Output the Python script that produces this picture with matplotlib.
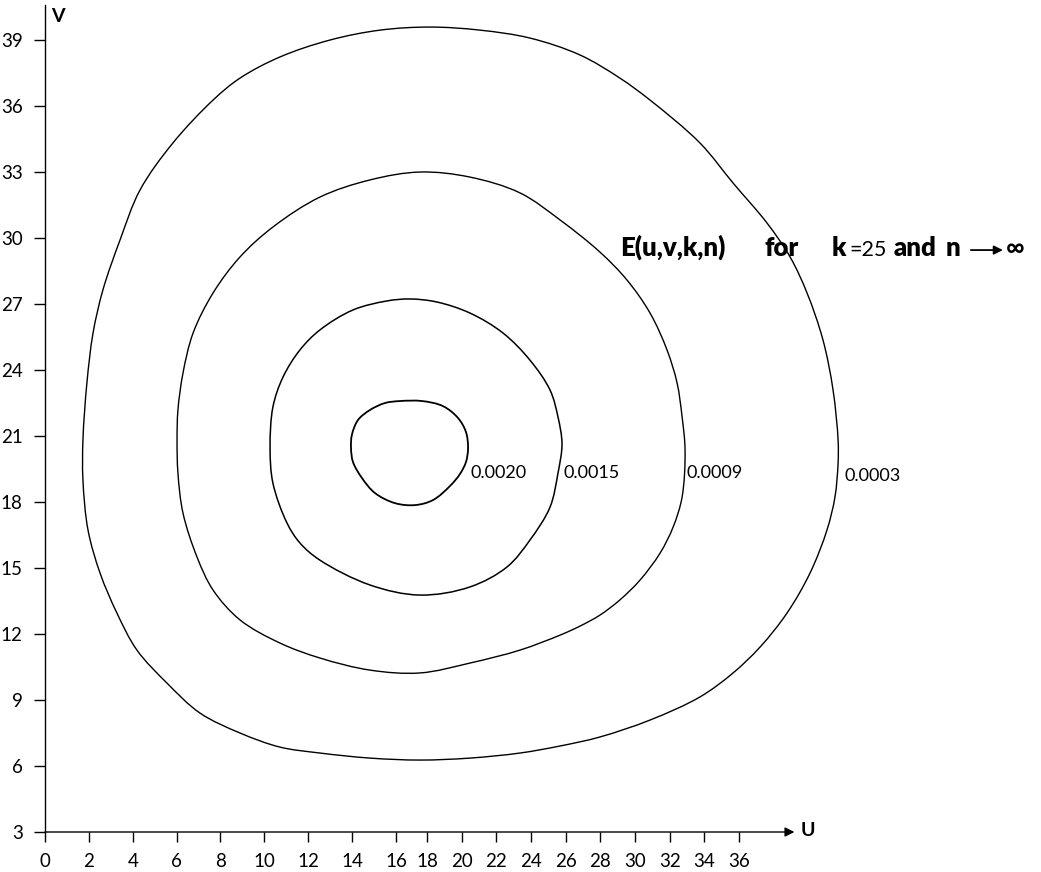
import numpy as np
import matplotlib
matplotlib.use('Agg')
import matplotlib.pyplot as plt
from matplotlib.path import Path
from matplotlib.patches import PathPatch
from matplotlib.transforms import offset_copy

plt.rcParams['font.family'] = ['Lato', 'DejaVu Sans']

# ---- data ----
u_ticks = list(range(0, 37, 2))
v_ticks = list(range(3, 40, 3))

levels = ['0.0003', '0.0009', '0.0015', '0.0020']

c0003_u = [18.17, 21.06, 23.94, 26.83, 29.13, 30.87, 33.75, 35.66, 37.62, 38.95, 39.93, 40.85,
           41.43, 41.72, 41.72, 41.54, 41.08, 40.10, 38.77, 37.22, 35.66, 33.75, 30.87, 27.98,
           25.68, 23.37, 20.48, 17.55, 14.81, 12.53, 10.71, 8.89, 7.06, 5.56, 4.19, 3.28, 2.51,
           1.96, 1.73, 1.73, 1.91, 2.19, 2.64, 3.42, 4.33, 5.83, 7.66, 8.89, 10.71, 12.99, 15.27]
c0003_v = [39.59, 39.45, 39.09, 38.32, 37.27, 36.27, 34.32, 32.50, 30.68, 29.14, 27.50, 25.36,
           23.09, 20.82, 19.77, 18.23, 16.73, 14.77, 12.95, 11.41, 10.23, 9.14, 8.09, 7.32,
           6.91, 6.59, 6.36, 6.27, 6.36, 6.59, 6.86, 7.50, 8.41, 9.77, 11.27, 12.95, 14.77,
           16.73, 19.00, 20.82, 23.41, 25.68, 27.64, 29.91, 32.18, 34.32, 36.27, 37.27, 38.23, 39.00, 39.45]

c0009_u = [17.55, 20.48, 23.37, 25.68, 27.98, 29.54, 30.87, 31.85, 32.43, 32.72, 32.89, 32.72,
           32.20, 31.45, 30.29, 29.13, 27.98, 26.83, 25.68, 23.37, 20.48, 17.55, 14.81, 12.53, 10.71,
           8.89, 7.66, 6.93, 6.29, 6.06, 6.02, 6.06, 6.29, 6.75, 7.66, 8.89, 10.39, 12.53, 14.81]
c0009_v = [33.00, 32.77, 32.05, 30.82, 29.36, 28.09, 26.59, 24.91, 23.41, 21.86, 20.36, 18.23,
           16.86, 15.68, 14.45, 13.55, 12.86, 12.36, 11.95, 11.27, 10.68, 10.23, 10.36, 10.91, 11.59,
           12.64, 14.00, 15.50, 17.50, 19.32, 20.82, 22.18, 23.86, 25.68, 27.50, 29.14, 30.50, 31.86, 32.64]

c0015_u = [16.90, 18.58, 20.48, 22.39, 23.94, 25.10, 25.56, 25.79, 25.56, 25.10, 23.94,
           22.62, 20.48, 17.55, 14.81, 12.53, 11.62, 11.03, 10.39, 10.26, 10.39, 10.85,
           11.62, 12.53, 14.04, 15.59]
c0015_v = [27.23, 27.09, 26.59, 25.68, 24.45, 23.09, 21.86, 20.64, 19.32, 17.77, 16.27,
           15.05, 14.14, 13.77, 14.23, 15.36, 16.14, 17.05, 18.86, 20.45, 22.32, 23.68,
           24.91, 25.82, 26.73, 27.14]

c0020_u = [16.26, 17.68, 18.92, 19.79, 20.25, 20.37, 20.25, 19.90, 19.33, 18.35, 17.23, 15.95,
           15.04, 14.45, 14.04, 13.95, 13.99, 14.27, 14.81, 15.50]
c0020_v = [22.59, 22.59, 22.36, 21.82, 21.18, 20.45, 19.82, 19.27, 18.73, 18.09, 17.86, 17.95,
           18.41, 19.09, 19.82, 20.45, 21.05, 21.73, 22.18, 22.50]

contours = [(c0003_u, c0003_v), (c0009_u, c0009_v), (c0015_u, c0015_v), (c0020_u, c0020_v)]
label_pos = [(42.1, 19.2), (32.95, 19.3), (25.85, 19.3), (20.5, 19.3)]

# the printed u axis is not evenly spaced: 0-16 wide, 16-36 narrower
knot_u = [-10, 0, 16, 18, 36, 80]
knot_p = [-219.4, 0, 351, 382, 694, 1456.5]


def fwd(x):
    return np.interp(x, knot_u, knot_p)


def inv(x):
    return np.interp(x, knot_p, knot_u)


def closed_curve(us, vs, a=0.5):
    # centripetal catmull-rom through the read points, done in screen-like units
    p = np.column_stack([fwd(np.asarray(us)), np.asarray(vs) * 22.0])
    n = len(p)
    verts = [p[0]]
    codes = [Path.MOVETO]
    for i in range(n):
        p0, p1, p2, p3 = p[i - 1], p[i], p[(i + 1) % n], p[(i + 2) % n]
        d1 = np.linalg.norm(p1 - p0) ** a
        d2 = np.linalg.norm(p2 - p1) ** a
        d3 = np.linalg.norm(p3 - p2) ** a
        b1 = (d1**2 * p2 - d2**2 * p0 + (2 * d1**2 + 3 * d1 * d2 + d2**2) * p1) / (3 * d1 * (d1 + d2))
        b2 = (d3**2 * p1 - d2**2 * p3 + (2 * d3**2 + 3 * d3 * d2 + d2**2) * p2) / (3 * d3 * (d3 + d2))
        verts += [b1, b2, p2]
        codes += [Path.CURVE4] * 3
    verts = np.array(verts)
    verts = np.column_stack([inv(verts[:, 0]), verts[:, 1] / 22.0])
    return Path(verts, codes)


fig = plt.figure(figsize=(10.41, 8.72), dpi=100)
ax = fig.add_axes([45 / 1041, 40 / 872, 996 / 1041, 832 / 872])
ax.set_xscale('function', functions=(fwd, inv))
ax.set_xlim(0, 53.43)
ax.set_ylim(3, 40.82)

for (us, vs), lw in zip(contours, [1.0, 1.0, 1.1, 1.3]):
    ax.add_patch(PathPatch(closed_curve(us, vs), fill=False, ec='black', lw=lw))

for lab, (x, y) in zip(levels, label_pos):
    ax.text(x, y, lab, ha='left', va='center', fontsize=13)

# axes
for s in ['top', 'right', 'bottom']:
    ax.spines[s].set_visible(False)
ax.spines['left'].set_bounds(3, 40.6)
ax.spines['left'].set_linewidth(1)
ax.annotate('', xy=(39.2, 3), xytext=(0, 3),
            arrowprops=dict(arrowstyle='-|>', lw=1, color='black',
                            mutation_scale=14, shrinkA=0, shrinkB=0),
            annotation_clip=False)
ax.set_xticks(u_ticks)
ax.set_xticklabels([str(t) for t in u_ticks])
ax.set_yticks(v_ticks)
ax.set_yticklabels([str(t) for t in v_ticks])
ax.xaxis.set_minor_locator(matplotlib.ticker.NullLocator())
ax.tick_params(axis='both', direction='out', length=7, width=1, labelsize=13.5, pad=8)
ax.tick_params(axis='y', length=8)

ax.text(0.6, 40.05, 'V', fontsize=14, fontweight='bold', ha='center', va='center')
ax.text(39.55, 3.05, 'U', fontsize=14, fontweight='bold', ha='left', va='center')

# title, mixed weights, pieces placed at offsets (pixels) from the start
x0, y0 = 29.13, 29.18
parts = [('E(u,v,k,n)', 'heavy', 18.5, 0), ('for', 'heavy', 18.5, 145), ('k', 'heavy', 18.5, 212),
         ('=25', 'normal', 15.5, 229), ('and', 'heavy', 18.5, 274), ('n', 'heavy', 18.5, 326),
         ('\u221e', 'bold', 18.5, 386)]
for s, w, fs, off in parts:
    tr = offset_copy(ax.transData, fig=fig, x=off, y=0, units='dots')
    ax.text(x0, y0, s, fontsize=fs, fontweight=w, transform=tr,
            ha='left', va='baseline')
ax.annotate('', xy=(x0, y0), xycoords=offset_copy(ax.transData, fig=fig, x=383, y=6, units='dots'),
            xytext=(x0, y0), textcoords=offset_copy(ax.transData, fig=fig, x=351, y=6, units='dots'),
            arrowprops=dict(arrowstyle='-|>', lw=1.3, color='black', mutation_scale=13,
                            shrinkA=0, shrinkB=0), annotation_clip=False)

fig.savefig('out.png', dpi=100)
